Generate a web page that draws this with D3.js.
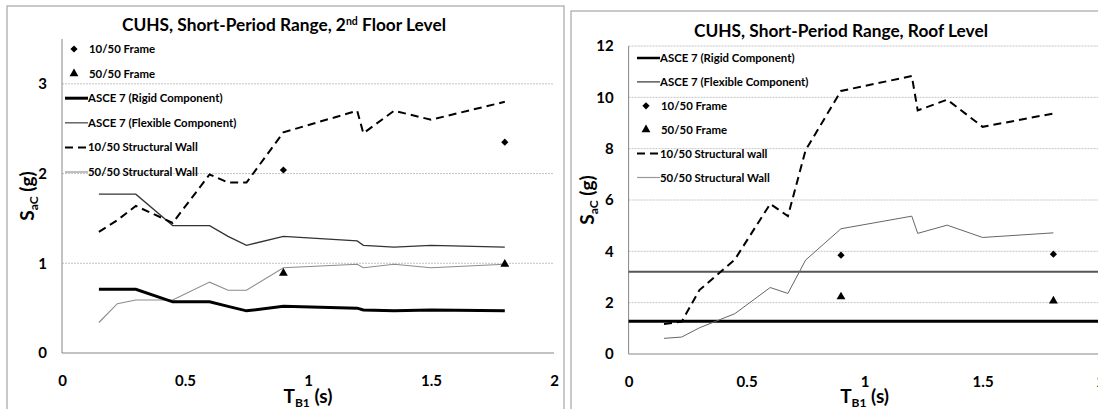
<!DOCTYPE html>
<meta charset="utf-8">
<style>
	body { margin: 0; background: #fff; }
	text { font-family: Lato, "Open Sans", sans-serif; font-weight: bold; fill: #000; }
</style>
<div id="chart"></div>
<script src="https://cdn.jsdelivr.net/npm/d3@7"></script>
<script>
	// periods T_B1 (s) shared by the structural wall series
	const periods = [0.15, 0.225, 0.3, 0.45, 0.6, 0.675, 0.75, 0.9, 1.2, 1.225, 1.35, 1.5, 1.8];
	const framePeriods = [0.9, 1.8];
	const xTicks = [0, 0.5, 1, 1.5, 2];

	// 2nd floor level
	const floorRigid = [0.71, 0.71, 0.71, 0.57, 0.57, 0.52, 0.47, 0.52, 0.50, 0.48, 0.47, 0.48, 0.47];
	const floorFlexible = [1.77, 1.77, 1.77, 1.42, 1.42, 1.30, 1.20, 1.30, 1.25, 1.20, 1.18, 1.20, 1.18];
	const floorWall1050 = [1.35, 1.48, 1.64, 1.45, 1.99, 1.90, 1.90, 2.46, 2.70, 2.45, 2.70, 2.60, 2.80];
	const floorWall5050 = [0.34, 0.55, 0.59, 0.59, 0.79, 0.70, 0.70, 0.95, 0.99, 0.95, 0.99, 0.95, 0.99];
	const floorFrame1050 = [2.04, 2.35];
	const floorFrame5050 = [0.89, 0.99];
	const floorYTicks = [0, 1, 2, 3];

	// roof level
	const roofAsceT = [0, 2];
	const roofRigid = [1.28, 1.28];
	const roofFlexible = [3.2, 3.2];
	const roofWall1050 = [1.17, 1.26, 2.49, 3.68, 5.85, 5.37, 7.94, 10.25, 10.83, 9.49, 9.91, 8.85, 9.37];
	const roofWall5050 = [0.61, 0.66, 1.02, 1.57, 2.59, 2.36, 3.66, 4.88, 5.37, 4.70, 5.02, 4.54, 4.72];
	const roofFrame1050 = [3.85, 3.89];
	const roofFrame5050 = [2.23, 2.07];
	const roofYTicks = [0, 2, 4, 6, 8, 10, 12];

	const styles = {
		rigid: { stroke: "#000", width: 3, dash: null },
		flexFloor: { stroke: "#333", width: 1.3, dash: null },
		flexRoof: { stroke: "#555", width: 2, dash: null },
		wall1050: { stroke: "#000", width: 2, dash: "8,5" },
		wall5050Floor: { stroke: "#8c8c8c", width: 1.1, dash: null },
		wall5050Roof: { stroke: "#666", width: 1, dash: null }
	};

	const width = 1098, height = 409;
	const svg = d3.select("#chart").append("svg")
		.attr("width", width)
		.attr("height", height);

	const zip = (xs, ys) => xs.map((t, i) => [t, ys[i]]);

	function drawPanel(p) {
		const g = svg.append("g");
		const x = d3.scaleLinear().domain([0, 2]).range([p.left, p.right]);
		const y = d3.scaleLinear().domain([0, p.yMax]).range([p.bottom, p.top]);

		// chart border
		g.append("rect")
			.attr("x", p.box[0]).attr("y", p.box[1])
			.attr("width", p.box[2]).attr("height", 500)
			.attr("fill", "#fff")
			.attr("stroke", "#a6a6a6")
			.attr("stroke-width", 1.2);

		// gridlines
		g.selectAll("line.grid").data(p.yTicks.filter(d => d > 0))
			.enter().append("line")
			.attr("class", "grid")
			.attr("x1", x(0)).attr("x2", x(2))
			.attr("y1", d => y(d)).attr("y2", d => y(d))
			.attr("stroke", "#c4c4c4")
			.attr("stroke-dasharray", "2,1")
			.attr("stroke-width", 1);

		// axis lines
		g.append("line").attr("x1", x(0)).attr("x2", x(0)).attr("y1", y(0)).attr("y2", p.top)
			.attr("stroke", "#868686");
		g.append("line").attr("x1", x(0)).attr("x2", x(2)).attr("y1", y(0)).attr("y2", y(0))
			.attr("stroke", "#868686");

		// tick labels
		const ax = g.append("g").attr("transform", "translate(0," + y(0) + ")")
			.call(d3.axisBottom(x).tickValues(xTicks).tickSize(0).tickPadding(22).tickFormat(d => String(d)));
		const ay = g.append("g").attr("transform", "translate(" + x(0) + ",0)")
			.call(d3.axisLeft(y).tickValues(p.yTicks).tickSize(0).tickPadding(15).tickFormat(d => String(d)));
		[ax, ay].forEach(a => {
			a.select(".domain").remove();
			a.selectAll("text").attr("font-size", 15).attr("font-family", "Lato, sans-serif").attr("font-weight", "bold");
		});

		const line = d3.line().x(d => x(d[0])).y(d => y(d[1]));

		// series
		p.lines.forEach(s => {
			g.append("path")
				.datum(zip(s.xs, s.ys))
				.attr("d", line)
				.attr("fill", "none")
				.attr("stroke", s.style.stroke)
				.attr("stroke-width", s.style.width)
				.attr("stroke-dasharray", s.style.dash)
				.attr("stroke-linejoin", "miter");
		});

		const diamond = d3.symbol(d3.symbolSquare, 26);
		const triangle = d3.symbol(d3.symbolTriangle, 34);
		p.points.forEach(s => {
			g.selectAll(null).data(zip(framePeriods, s.ys))
				.enter().append("path")
				.attr("d", s.kind == "diamond" ? diamond : triangle)
				.attr("transform", d => "translate(" + x(d[0]) + "," + y(d[1]) + ")" + (s.kind == "diamond" ? " rotate(45)" : ""))
				.attr("fill", "#000");
		});

		// legend
		const lg = g.append("g").attr("transform", "translate(" + p.legend[0] + "," + p.legend[1] + ")");
		p.legendItems.forEach((it, i) => {
			const row = lg.append("g").attr("transform", "translate(0," + (i * p.legend[2]) + ")");
			if (it.style) {
				row.append("line").attr("x1", 0).attr("x2", 23).attr("y1", 0).attr("y2", 0)
					.attr("stroke", it.style.stroke)
					.attr("stroke-width", it.style.width)
					.attr("stroke-dasharray", it.style.dash);
			} else {
				row.append("path")
					.attr("d", it.kind == "diamond" ? diamond : triangle)
					.attr("transform", "translate(9,0)" + (it.kind == "diamond" ? " rotate(45)" : ""))
					.attr("fill", "#000");
			}
			row.append("text")
				.attr("x", it.style ? 23 : 24)
				.attr("y", 4)
				.attr("font-size", 11.4)
				.text(it.label);
		});

		// title
		const title = g.append("text")
			.attr("x", p.titleX).attr("y", p.titleY)
			.attr("text-anchor", "middle")
			.attr("font-size", 17.3);
		title.append("tspan").text(p.title[0]);
		if (p.title[1]) {
			title.append("tspan").attr("font-size", 10.5).attr("dy", -6).text(p.title[1]);
			title.append("tspan").attr("dy", 6).text(p.title[2]);
		}

		// y axis label
		const yl = g.append("text")
			.attr("transform", "translate(" + p.yLabel[0] + "," + p.yLabel[1] + ") rotate(-90)")
			.attr("text-anchor", "middle")
			.attr("font-size", 19);
		yl.append("tspan").text("S");
		yl.append("tspan").attr("font-size", 12).attr("dy", 4).text("aC");
		yl.append("tspan").attr("dy", -4).text(" (g)");

		// x axis label
		const xl = g.append("text")
			.attr("x", x(1)).attr("y", 403)
			.attr("text-anchor", "middle")
			.attr("font-size", 19);
		xl.append("tspan").text("T");
		xl.append("tspan").attr("font-size", 12).attr("dy", 4).text("B1");
		xl.append("tspan").attr("dy", -4).text(" (s)");
	}

	drawPanel({
		box: [7, 6, 557],
		left: 62, right: 554, top: 39, bottom: 353, yMax: 3.5,
		yTicks: floorYTicks,
		title: ["CUHS, Short-Period Range, 2", "nd", " Floor Level"],
		titleX: 284, titleY: 31,
		yLabel: [34, 196],
		lines: [
			{ xs: periods, ys: floorWall5050, style: styles.wall5050Floor },
			{ xs: periods, ys: floorFlexible, style: styles.flexFloor },
			{ xs: periods, ys: floorRigid, style: styles.rigid },
			{ xs: periods, ys: floorWall1050, style: styles.wall1050 }
		],
		points: [
			{ ys: floorFrame1050, kind: "diamond" },
			{ ys: floorFrame5050, kind: "triangle" }
		],
		legend: [65, 49, 24.6],
		legendItems: [
			{ label: "10/50 Frame", kind: "diamond" },
			{ label: "50/50 Frame", kind: "triangle" },
			{ label: "ASCE 7 (Rigid Component)", style: styles.rigid },
			{ label: "ASCE 7 (Flexible Component)", style: { stroke: "#666", width: 1.5 } },
			{ label: "10/50 Structural Wall", style: styles.wall1050 },
			{ label: "50/50 Structural Wall", style: { stroke: "#aaa", width: 1.5 } }
		]
	});

	drawPanel({
		box: [571, 11, 600],
		left: 628.6, right: 1100.6, top: 46, bottom: 354, yMax: 12,
		yTicks: roofYTicks,
		title: ["CUHS, Short-Period Range, Roof Level"],
		titleX: 841, titleY: 37,
		yLabel: [594, 200],
		lines: [
			{ xs: roofAsceT, ys: roofRigid, style: styles.rigid },
			{ xs: roofAsceT, ys: roofFlexible, style: styles.flexRoof },
			{ xs: periods, ys: roofWall5050, style: styles.wall5050Roof },
			{ xs: periods, ys: roofWall1050, style: styles.wall1050 }
		],
		points: [
			{ ys: roofFrame1050, kind: "diamond" },
			{ ys: roofFrame5050, kind: "triangle" }
		],
		legend: [637, 58, 23.9],
		legendItems: [
			{ label: "ASCE 7 (Rigid Component)", style: { stroke: "#000", width: 2.5 } },
			{ label: "ASCE 7 (Flexible Component)", style: { stroke: "#333", width: 1.2 } },
			{ label: "10/50 Frame", kind: "diamond" },
			{ label: "50/50 Frame", kind: "triangle" },
			{ label: "10/50 Structural wall", style: styles.wall1050 },
			{ label: "50/50 Structural Wall", style: { stroke: "#999", width: 1.2 } }
		]
	});
</script>
